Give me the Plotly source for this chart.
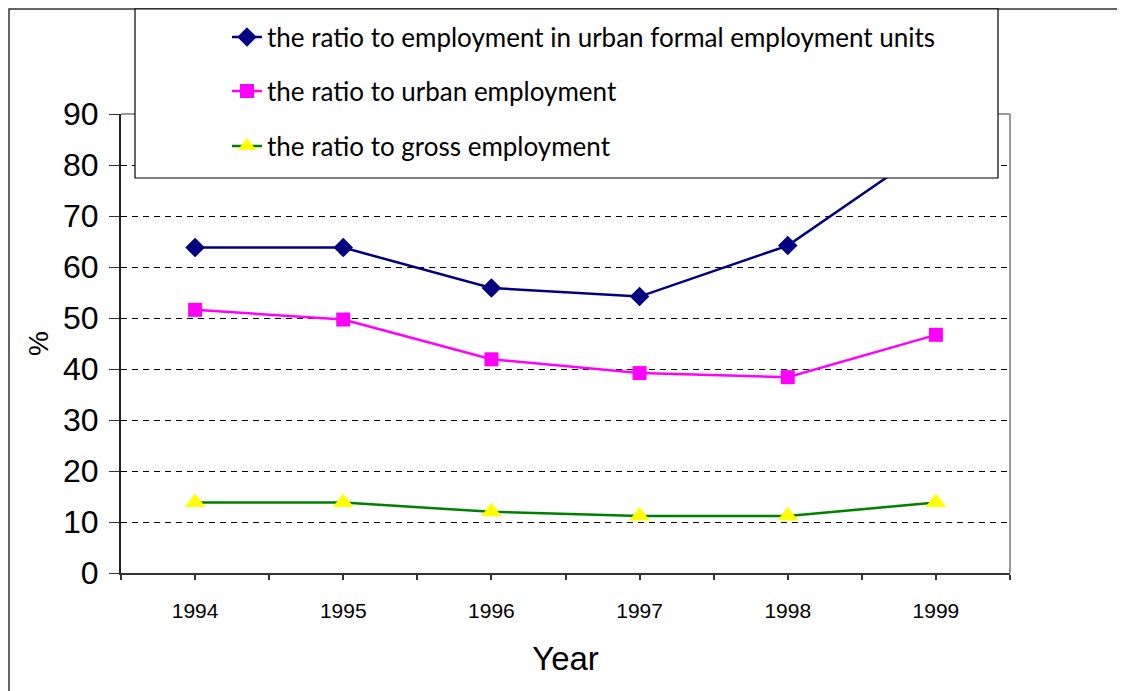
import plotly.graph_objects as go

years = ["1994", "1995", "1996", "1997", "1998", "1999"]
formal_units = [63.8, 63.8, 55.9, 54.2, 64.2, 84.2]
urban = [51.6, 49.7, 41.9, 39.2, 38.4, 46.7]
gross = [13.8, 13.8, 12.0, 11.2, 11.2, 13.8]
names = [
    "the ratio to employment in urban formal employment units",
    "the ratio to urban employment",
    "the ratio to gross employment",
]
y_ticks = list(range(0, 100, 10))

OFF = 8  # page body margin
W, H = 1125 - OFF, 691 - OFF
L, R, T, B = 121 - OFF, 1010 - OFF, 114 - OFF, 573 - OFF
pw, ph = R - L, B - T


def px(x):
    # x given in reference screenshot pixels
    return (x - OFF - L) / pw


def py(y):
    return (B - (y - OFF)) / ph


xs = list(range(len(years)))
fig = go.Figure()
fig.add_trace(go.Scatter(
    x=xs, y=formal_units, name=names[0], mode="lines+markers",
    line=dict(color="#000080", width=2.5),
    marker=dict(symbol="diamond", size=15, color="#000080"),
    legend="legend"))
fig.add_trace(go.Scatter(
    x=xs, y=urban, name=names[1], mode="lines+markers",
    line=dict(color="#FF00FF", width=2.5),
    marker=dict(symbol="square", size=14, color="#FF00FF"),
    legend="legend2"))
fig.add_trace(go.Scatter(
    x=xs, y=gross, name=names[2], mode="lines+markers",
    line=dict(color="#008000", width=2.5),
    marker=dict(symbol="triangle-up", size=18, color="#FFFF00"),
    legend="legend3"))

legfont = dict(family="Lato", size=26, color="#000000")
leg_common = dict(font=legfont, bgcolor="rgba(0,0,0,0)", borderwidth=0,
                  xanchor="left", yanchor="middle", x=px(227))

shapes = [
    # outer border
    dict(type="rect", xref="paper", yref="paper", x0=px(9), x1=px(1300),
         y0=py(900), y1=py(9), line=dict(color="#333333", width=1.5),
         layer="below"),
    # plot frame top/right (grey)
    dict(type="line", xref="paper", yref="paper", x0=0, x1=1, y0=1, y1=1,
         line=dict(color="#999999", width=2), layer="above"),
    dict(type="line", xref="paper", yref="paper", x0=1, x1=1, y0=0, y1=1,
         line=dict(color="#999999", width=2), layer="above"),
    # legend box
    dict(type="rect", xref="paper", yref="paper", x0=px(135), x1=px(998),
         y0=py(178), y1=py(9), line=dict(color="#000000", width=1.2),
         fillcolor="#FFFFFF", layer="above"),
]

fig.update_layout(
    width=W, height=H,
    margin=dict(l=L, r=W - R, t=T, b=H - B, autoexpand=False),
    paper_bgcolor="white", plot_bgcolor="white",
    font=dict(family="Liberation Sans", color="#000000"),
    showlegend=True,
    legend=dict(**leg_common, y=py(37)),
    legend2=dict(**leg_common, y=py(91)),
    legend3=dict(**leg_common, y=py(146)),
    shapes=shapes,
    xaxis=dict(
        range=[-0.5, len(years) - 0.5], tickmode="array", tickvals=xs,
        ticktext=years, ticks="outside", ticklen=5, tickwidth=1.5,
        tickcolor="#333333", showline=True, linecolor="#333333", linewidth=2,
        showgrid=False, zeroline=False,
        tickfont=dict(family="Liberation Sans", size=21),
        ticklabelstandoff=13,
        minor=dict(dtick=0.5, tick0=0.5, ticks="outside", ticklen=5,
                   tickwidth=1.5, tickcolor="#333333", showgrid=False),
        title=dict(text="Year", font=dict(family="Liberation Sans", size=33),
                   standoff=26),
    ),
    yaxis=dict(
        range=[0, 90], tickmode="array", tickvals=y_ticks,
        ticks="outside", ticklen=10, tickwidth=1.2, tickcolor="#333333",
        showline=True, linecolor="#222222", linewidth=2,
        showgrid=True, gridcolor="#000000", gridwidth=1, griddash="6px,5px",
        zeroline=False,
        tickfont=dict(family="Liberation Sans", size=32),
        ticklabelstandoff=4,
        title=dict(text="%", font=dict(family="Liberation Sans", size=28),
                   standoff=6),
    ),
)

fig.write_html("out.html")
